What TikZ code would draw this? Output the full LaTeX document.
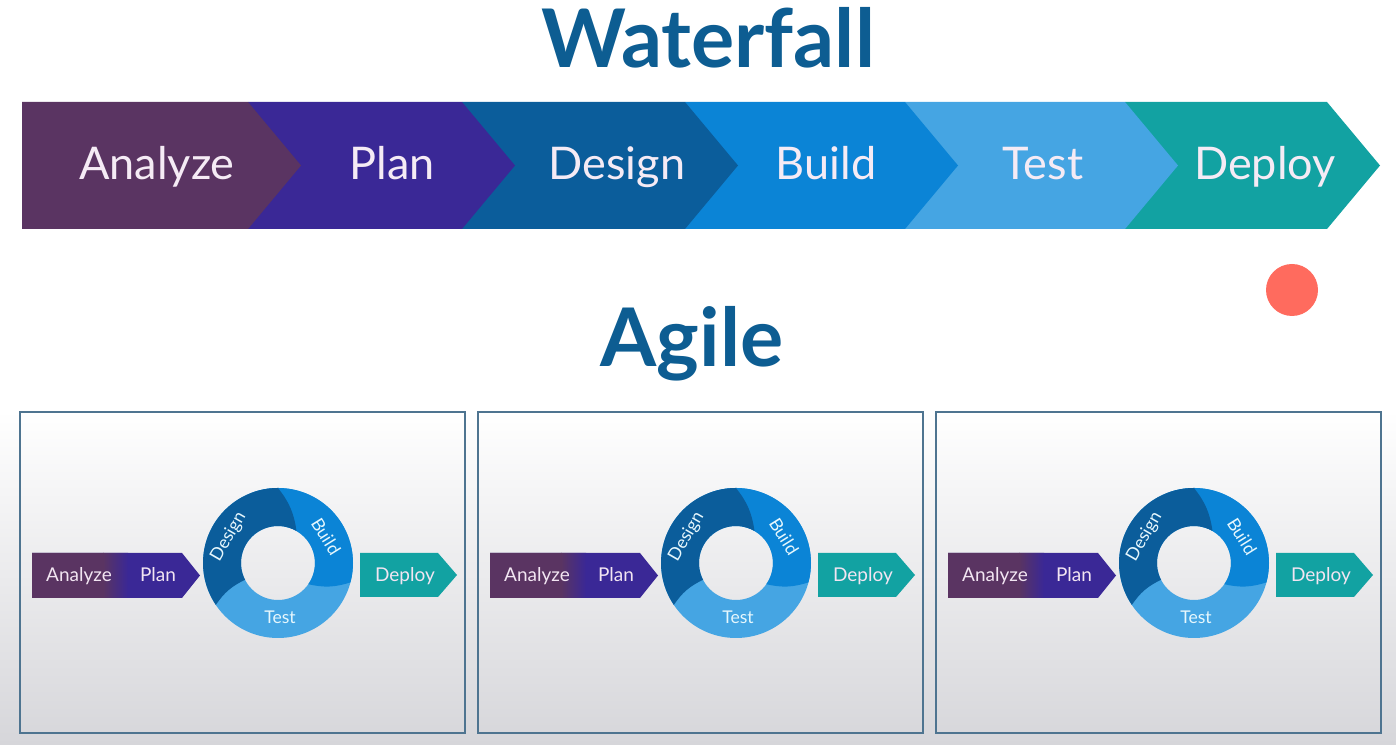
\documentclass[tikz,border=0pt]{standalone}
\usepackage{fontspec}
\setmainfont{Lato}
\usetikzlibrary{positioning}
\definecolor{titleblue}{HTML}{0D5D92}
\definecolor{analyzecol}{HTML}{5A3462}
\definecolor{plancol}{HTML}{3A2896}
\definecolor{designcol}{HTML}{0B5D9B}
\definecolor{buildcol}{HTML}{0B84D6}
\definecolor{testcol}{HTML}{45A5E3}
\definecolor{deploycol}{HTML}{12A2A2}
\definecolor{panelline}{HTML}{4E7490}
\definecolor{bggray}{HTML}{D6D6DA}
\definecolor{dotred}{HTML}{FF6B5E}

\begin{document}
\begin{tikzpicture}[x=0.01cm,y=0.01cm,
    title/.style={font=\bfseries\fontsize{23}{27}\selectfont, text=titleblue, anchor=base},
    steptxt/.style={font=\fontsize{12.8}{15}\selectfont, text=white!92!violet, anchor=base},
    smalltxt/.style={font=\fontsize{5.4}{6.5}\selectfont, text=white!90!violet, inner sep=0pt},
    ringtxt/.style={font=\fontsize{5}{6}\selectfont, text=white!90!cyan, inner sep=0pt},
    panel/.style={draw=panelline, line width=0.7pt}]

    \useasboundingbox (0,0) rectangle (1396,745);
    \fill[white] (0,0) rectangle (1396,745);
    \shade[top color=white, bottom color=bggray] (0,0) rectangle (1396,335);

    \node[title] (waterfall) at (708,677) {Waterfall};
    \node[title] (agile) at (692,378) {Agile};

    % waterfall band, drawn right to left
    \foreach \xl/\xr/\col in {1125/1327/deploycol, 905/1125/testcol, 685/905/buildcol,
                             462/685/designcol, 248/462/plancol, 22/248/analyzecol}
        \fill[\col] (\xl,516) -- (\xl,643) -- (\xr,643) -- (\xr+53,579.5) -- (\xr,516) -- cycle;
    \foreach \nm/\x/\txt in {analyze/157/Analyze, plan/392/Plan, design/617/Design,
                             build/826/Build, test/1043/Test, deploy/1265/Deploy}
        \node[steptxt] (\nm) at (\x,565) {\txt};

    \fill[dotred] (1292,455) circle (26);

    % agile panels
    \foreach \dx [count=\i] in {0,458,916} {
        \begin{scope}[shift={(\dx,0)}]
            \draw[panel] (20,12) rectangle (465,333);
            \begin{scope}
                \clip (32,147) -- (32,192) -- (182,192) -- (200,169.5) -- (182,147) -- cycle;
                \fill[plancol] (30,140) rectangle (210,200);
                \fill[analyzecol] (30,140) rectangle (104,200);
                \shade[left color=analyzecol, right color=plancol] (103,140) rectangle (128,200);
            \end{scope}
            \node[smalltxt, anchor=base] (analyze-\i) at (79,163) {Analyze};
            \node[smalltxt, anchor=base] (plan-\i) at (158,163) {Plan};
            \fill[deploycol] (360,148) -- (360,192) -- (438,192) -- (457,170) -- (438,148) -- cycle;
            \node[smalltxt, anchor=base] (deploy-\i) at (405,163) {Deploy};
            \begin{scope}[shift={(278,182)}]
                \fill[testcol, even odd rule] (0,0) circle (75) (0,0) circle (37);
                \fill[buildcol] (110:75) arc[start angle=110, end angle=-15, radius=75]
                    to[bend left=15] (-35:37) arc[start angle=-35, end angle=80, radius=37] -- cycle;
                \fill[designcol] (90:75) arc[start angle=90, end angle=214, radius=75]
                    to[bend left=15] (207:37) arc[start angle=207, end angle=60, radius=37]
                    to[bend right=15] (90:75) -- cycle;
                \node[ringtxt, rotate=60] (design-\i) at (152:56) {Design};
                \node[ringtxt, rotate=-58] (build-\i) at (29:55) {Build};
                \node[ringtxt] (test-\i) at (2,-54) {Test};
            \end{scope}
        \end{scope}
    }
\end{tikzpicture}
\end{document}
